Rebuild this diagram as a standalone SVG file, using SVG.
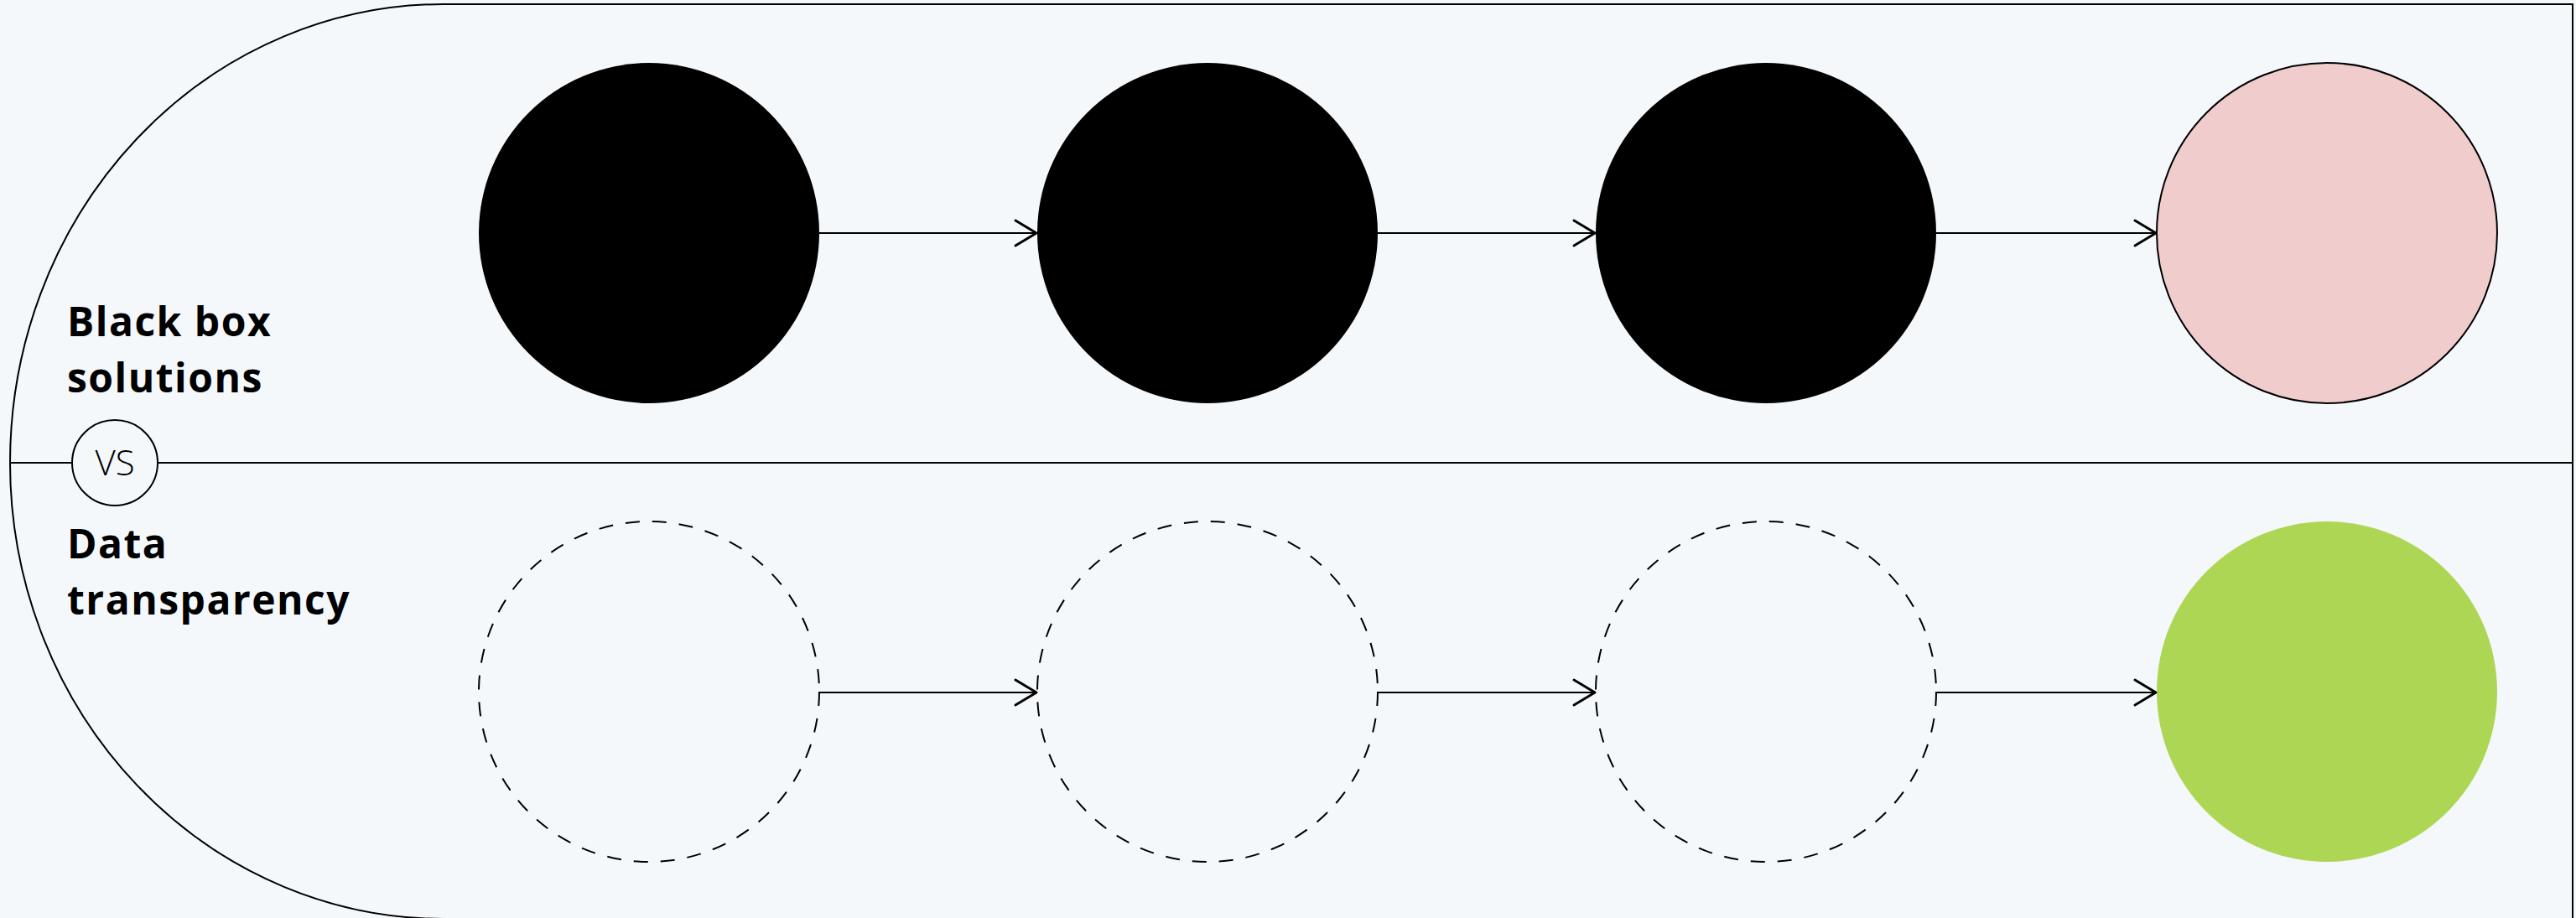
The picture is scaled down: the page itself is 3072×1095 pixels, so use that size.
<svg xmlns="http://www.w3.org/2000/svg" width="3072" height="1095" viewBox="0 0 3072 1095">
  <defs>
    <style>
      .outline { fill: none; stroke: #000; stroke-width: 2; }
      .solid { fill: #000; }
      .dashed { fill: none; stroke: #000; stroke-width: 2; stroke-dasharray: 17 15; }
      .conn { fill: none; stroke: #000; stroke-width: 2; marker-end: url(#chev); }
      .label { font-family: "Open Sans", "Liberation Sans", sans-serif; font-weight: 700; font-size: 48px; letter-spacing: 1.5px; fill: #000; }
      .vs { font-family: "Open Sans", "Liberation Sans", sans-serif; font-weight: 300; font-size: 42px; fill: #000; }
    </style>
    <marker id="chev" markerUnits="userSpaceOnUse" markerWidth="40" markerHeight="40" viewBox="-30 -20 34 40" refX="0" refY="0" orient="auto" overflow="visible">
      <path d="M -25 -15 L 0 0 L -25 15" fill="none" stroke="#000" stroke-width="3" stroke-linecap="round" stroke-linejoin="round"/>
    </marker>
  </defs>
  <rect x="0" y="0" width="3072" height="1095" fill="#F4F8FB"/>

  <g id="frame">
    <path class="outline" d="M 3068 5 H 529 A 517 547 0 0 0 12 552 A 517 544 0 0 0 529 1096 H 3068 Z"/>
    <line class="outline" x1="12" y1="552" x2="3068" y2="552"/>
  </g>

  <g id="vs">
    <circle cx="137" cy="552" r="51" fill="#F4F8FB" stroke="#000" stroke-width="2"/>
    <text class="vs" x="137" y="567" text-anchor="middle">VS</text>
  </g>

  <g id="label-blackbox">
    <text class="label" x="80" y="401">Black box</text>
    <text class="label" x="80" y="468">solutions</text>
  </g>
  <g id="label-transparency">
    <text class="label" x="80" y="666">Data</text>
    <text class="label" x="80" y="733">transparency</text>
  </g>

  <g id="top-1"><circle class="solid" cx="774" cy="278" r="203"/></g>
  <g id="top-2"><circle class="solid" cx="1440" cy="278" r="203"/></g>
  <g id="top-3"><circle class="solid" cx="2106" cy="278" r="203"/></g>
  <g id="top-4"><circle cx="2775" cy="278" r="203" fill="#F0CCCC" stroke="#000" stroke-width="2"/></g>

  <g id="bottom-1"><circle class="dashed" cx="774" cy="825" r="203"/></g>
  <g id="bottom-2"><circle class="dashed" cx="1440" cy="825" r="203"/></g>
  <g id="bottom-3"><circle class="dashed" cx="2106" cy="825" r="203"/></g>
  <g id="bottom-4"><circle cx="2775" cy="825" r="203" fill="#ADD655"/></g>

  <g id="connectors">
    <line class="conn" x1="977" y1="278" x2="1236" y2="278"/>
    <line class="conn" x1="1643" y1="278" x2="1902" y2="278"/>
    <line class="conn" x1="2309" y1="278" x2="2571" y2="278"/>
    <line class="conn" x1="977" y1="826" x2="1236" y2="826"/>
    <line class="conn" x1="1643" y1="826" x2="1902" y2="826"/>
    <line class="conn" x1="2309" y1="826" x2="2571" y2="826"/>
  </g>
</svg>
